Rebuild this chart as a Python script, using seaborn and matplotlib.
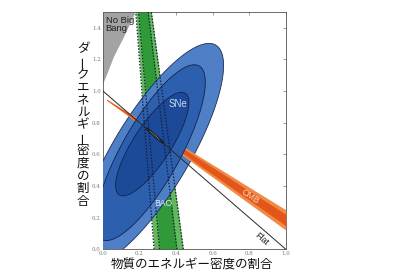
import numpy as np
import pandas as pd
import matplotlib
matplotlib.use("Agg")
import matplotlib.pyplot as plt
import seaborn as sns

# ---------------- data ----------------
# SNe confidence regions (outer, middle, inner): centre, half extents, correlation
sne_cx = [0.26, 0.26, 0.27]
sne_cy = [0.60, 0.61, 0.664]
sne_hx = [0.40, 0.30, 0.20]
sne_hy = [0.70, 0.555, 0.327]
sne_rho = [0.80, 0.80, 0.80]
sne_colors = ["#4f7fc6", "#2c5fae", "#1c4a98"]

# combined constraint (small grey ellipse)
comb_cx = [0.285, 0.285]
comb_cy = [0.717, 0.717]
comb_hx = [0.047, 0.030]
comb_hy = [0.048, 0.031]
comb_rho = [-0.985, -0.99]
comb_colors = ["#8e8e8e", "#d9d9d9"]

# BAO band (y from bottom to top), outer and inner edges
bao_y = [0.0, 1.5]
bao_outer_left = [0.28, 0.18]
bao_outer_right = [0.44, 0.265]
bao_inner_left = [0.31, 0.195]
bao_inner_right = [0.405, 0.248]

# CMB band: centre line and half widths
cmb_x = [0.02, 1.0]
cmb_center = [0.945, 0.185]
cmb_outer_half = [0.004, 0.064]
cmb_inner_half = [0.002, 0.036]

# No Big Bang region boundary
nbb_y = [1.048, 1.11, 1.217, 1.343, 1.5]
nbb_x = [0.0, 0.022, 0.058, 0.113, 0.177]

# Flat universe line
flat_x = [0.0, 1.0]
flat_y = [1.0, 0.0]

x_ticks = [0.0, 0.2, 0.4, 0.6, 0.8, 1.0]
y_ticks = [0.0, 0.2, 0.4, 0.6, 0.8, 1.0, 1.2, 1.4]

xlabel = "物質のエネルギー密度の割合"
ylabel = "ダークエネルギー密度の割合"

# ---------------- plotting ----------------
sns.set_theme(style="white")
plt.rcParams['font.family'] = ['Noto Sans CJK JP', 'DejaVu Sans']

fig = plt.figure(figsize=(4, 2.73), dpi=100)
ax = fig.add_axes([0.257, 0.087, 0.4575, 0.870])


def ellipse_pts(cx, cy, hx, hy, rho, n=300):
    t = np.linspace(0, 2 * np.pi, n)
    x = cx + hx * np.cos(t)
    y = cy + hy * (rho * np.cos(t) + np.sqrt(1 - rho ** 2) * np.sin(t))
    return x, y

# No Big Bang
ax.fill_betweenx(nbb_y, 0, nbb_x, color="#a3a3a3", lw=0, zorder=1)

# BAO band
ax.fill_betweenx(bao_y, bao_outer_left, bao_outer_right, color="#62b85a", lw=0, zorder=2)
ax.fill_betweenx(bao_y, bao_inner_left, bao_inner_right, color="#2f9a37", lw=0, zorder=2.1)

# SNe outer
x, y = ellipse_pts(sne_cx[0], sne_cy[0], sne_hx[0], sne_hy[0], sne_rho[0])
ax.fill(x, y, facecolor=sne_colors[0], edgecolor="#1d2d55", lw=0.6, zorder=3)

# CMB band
cx_arr = np.array(cmb_x)
cc = np.array(cmb_center)
co = np.array(cmb_outer_half)
ci = np.array(cmb_inner_half)
ax.fill_between(cx_arr, cc - co, cc + co, color="#f08a45", lw=0, zorder=4)
ax.fill_between(cx_arr, cc - ci, cc + ci, color="#e2561a", lw=0, zorder=4.1)

# SNe middle and inner
for i in (1, 2):
    x, y = ellipse_pts(sne_cx[i], sne_cy[i], sne_hx[i], sne_hy[i], sne_rho[i])
    ax.fill(x, y, facecolor=sne_colors[i], edgecolor="#14224a", lw=0.6, zorder=5 + i)

# combined
for i in range(2):
    x, y = ellipse_pts(comb_cx[i], comb_cy[i], comb_hx[i], comb_hy[i], comb_rho[i])
    ax.fill(x, y, facecolor=comb_colors[i], edgecolor="#111111" if i == 0 else "none",
            lw=0.8, zorder=8 + i)

# BAO dashed contours
for edge in (bao_outer_left, bao_inner_left, bao_inner_right, bao_outer_right):
    ax.plot(edge, bao_y, color="#15203a", lw=0.9, ls=(0, (1.2, 1.3)), zorder=10)

# Flat line
sns.lineplot(x=flat_x, y=flat_y, color="#2a2a2a", lw=0.7, ax=ax, zorder=11)

# labels inside
lab_font = "Liberation Sans"
ax.text(0.015, 1.475, "No Big\nBang", fontsize=6.8, color="#222222", va="top", ha="left",
        family=lab_font, linespacing=0.95, zorder=12)
ax.text(0.41, 0.917, "SNe", fontsize=7, color="#c9d8f2", ha="center", va="center",
        family=lab_font, zorder=12)
ax.text(0.33, 0.286, "BAO", fontsize=6.2, color="#e4ecf8", ha="center", va="center",
        family=lab_font, zorder=12)
ax.text(0.805, 0.333, "CMB", fontsize=6.5, color="#ffd9c2", ha="center", va="center",
        rotation=-34, family=lab_font, zorder=12)
ax.text(0.865, 0.062, "Flat", fontsize=6.5, color="#222222", ha="center", va="center",
        rotation=-41, family=lab_font, zorder=12)

ax.set_xlim(0, 1.0)
ax.set_ylim(0, 1.5)
ax.set_xticks(x_ticks)
ax.set_yticks(y_ticks)
ax.set_xticklabels([f"{v:.1f}" for v in x_ticks])
ax.set_yticklabels([f"{v:.1f}" for v in y_ticks])
ax.tick_params(direction="in", length=2.5, width=0.5, labelsize=4, colors="#777777",
               top=True, right=True, pad=1.5)
for lab in ax.get_xticklabels() + ax.get_yticklabels():
    lab.set_family("DejaVu Serif")
for sp in ax.spines.values():
    sp.set_color("#555555")
    sp.set_linewidth(0.6)
ax.set_xlabel("")
ax.set_ylabel("")

# x label
fig.text(0.479, 1 - 265 / 273, xlabel, fontsize=9, ha="center", va="center", color="#111111")

# vertical y label, one character per line
pitch = 12.7
for i, ch in enumerate(ylabel):
    ypx = 49 + i * pitch
    fig.text(83 / 400, 1 - ypx / 273, ch, fontsize=9, ha="center", va="center",
             color="#111111", rotation=90 if ch == "ー" else 0)

fig.savefig("out.png", dpi=100)
